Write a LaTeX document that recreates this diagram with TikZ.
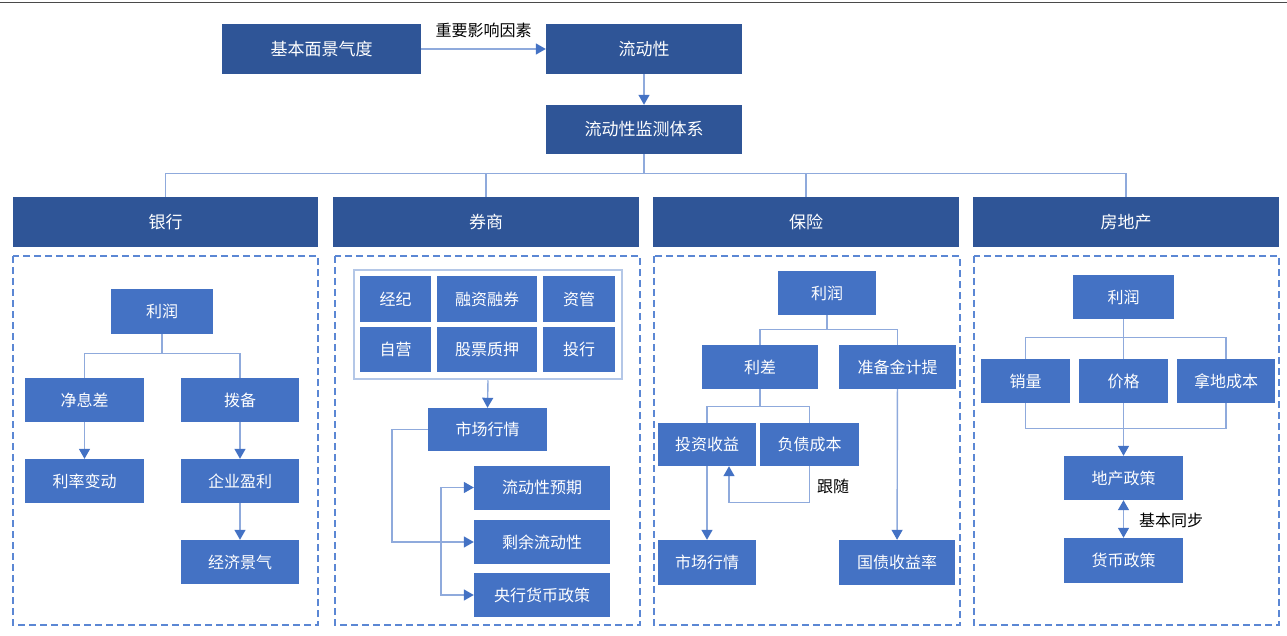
\documentclass[tikz,border=0pt]{standalone}
\usepackage{fontspec}
\usepackage{xcolor}
\usepackage{tikz}
\usetikzlibrary{
		arrows.meta,
		calc
	}
\newfontfamily\cjkfont{Noto Sans CJK SC}
\definecolor{chart-dark}{HTML}{2F5597}
\definecolor{chart-mid}{HTML}{4472C4}
\definecolor{chart-line}{HTML}{8FAADC}
\definecolor{chart-frame}{HTML}{B4C7E7}
\definecolor{chart-dash}{HTML}{5B87D4}
\definecolor{chart-rule}{HTML}{4A4A4A}
\newcommand{\boxfont}{\cjkfont\fontsize{16}{18}\selectfont}
\newcommand{\headfont}{\cjkfont\fontsize{17}{19}\selectfont}
\tikzset{%
		topbox/.style = {
			fill = chart-dark,
			text = white,
			font = \headfont,
			inner sep = 0pt,
			minimum height = 50pt
		},
		cellbox/.style = {
			fill = chart-mid,
			text = white,
			font = \boxfont,
			inner sep = 0pt,
			minimum height = 44pt
		},
		cellframe/.style = {
			draw = chart-frame,
			line width = 2.5pt,
			fill = white,
			inner sep = 0pt
		},
		panel/.style = {
			draw = chart-dash,
			line width = 1.8pt,
			dash pattern = on 7pt off 4pt
		},
		wire/.style = {
			draw = chart-line,
			line width = 1.4pt
		},
		arrowwire/.style = {
			wire,
			-{Triangle[width=11pt, length=10pt, color=chart-mid]}
		},
		twowire/.style = {
			wire,
			{Triangle[width=11pt, length=10pt, color=chart-mid]}-{Triangle[width=11pt, length=10pt, color=chart-mid]}
		},
		note/.style = {
			text = black,
			font = \boxfont,
			inner sep = 0pt
		}
	}

\begin{document}
\begin{tikzpicture}[x=1pt, y=-1pt]
		\useasboundingbox (0, 0) rectangle (1287, 636);
		\draw [chart-rule, line width = 1.5pt] (0, 2.5) -- (1287, 2.5);

		% top chain
		\node [topbox, minimum width = 199pt] (fund) at (321.5, 49) {基本面景气度};
		\node [topbox, minimum width = 196pt] (liq) at (644, 49) {流动性};
		\node [topbox, minimum width = 196pt, minimum height = 49pt] (monitor) at (644, 129.5) {流动性监测体系};
		\draw [arrowwire] (fund) -- node [note, above = 11pt] (factor) {重要影响因素} (liq);
		\draw [arrowwire] (liq) -- (monitor);

		% sector headers
		\node [topbox, minimum width = 305pt] (bank) at (165.5, 222) {银行};
		\node [topbox, minimum width = 306pt] (broker) at (486, 222) {券商};
		\node [topbox, minimum width = 306pt] (insur) at (806, 222) {保险};
		\node [topbox, minimum width = 306pt] (estate) at (1126, 222) {房地产};
		\coordinate (monitor-bus) at ($(monitor.south) + (0, 19.5)$);
		\draw [wire] (monitor.south) -- (monitor-bus);
		\foreach \sector in {bank, broker, insur, estate}
			\draw [wire] (\sector.north) |- (monitor-bus);

		\draw [panel] (13, 256) rectangle (318, 625);
		\draw [panel] (335, 256) rectangle (640, 625);
		\draw [panel] (654, 256) rectangle (960, 625);
		\draw [panel] (974, 256) rectangle (1279, 625);

		% bank
		\node [cellbox, minimum width = 102pt, minimum height = 45pt] (bk-profit) at (162, 311.5) {利润};
		\node [cellbox, minimum width = 119pt] (bk-nim) at (84.5, 400) {净息差};
		\node [cellbox, minimum width = 118pt] (bk-prov) at (240, 400) {拨备};
		\node [cellbox, minimum width = 119pt] (bk-rate) at (84.5, 481) {利率变动};
		\node [cellbox, minimum width = 118pt] (bk-earn) at (240, 481) {企业盈利};
		\node [cellbox, minimum width = 118pt] (bk-econ) at (240, 562) {经济景气};
		\coordinate (bk-bus) at ($(bk-profit.south) + (0, 19)$);
		\draw [wire] (bk-profit.south) -- (bk-bus);
		\draw [wire] (bk-bus) -| (bk-nim.north);
		\draw [wire] (bk-bus) -| (bk-prov.north);
		\draw [arrowwire] (bk-nim) -- (bk-rate);
		\draw [arrowwire] (bk-prov) -- (bk-earn);
		\draw [arrowwire] (bk-earn) -- (bk-econ);

		% broker
		\node [cellframe, minimum width = 268pt, minimum height = 109pt] (br-frame) at (488, 324.5) {};
		\node [cellbox, minimum width = 71pt, minimum height = 45pt] (br-agency) at (395.5, 299) {经纪};
		\node [cellbox, minimum width = 100pt, minimum height = 45pt] (br-margin) at (487, 299) {融资融券};
		\node [cellbox, minimum width = 72pt, minimum height = 45pt] (br-asset) at (579, 299) {资管};
		\node [cellbox, minimum width = 71pt, minimum height = 45pt] (br-prop) at (395.5, 349.5) {自营};
		\node [cellbox, minimum width = 100pt, minimum height = 45pt] (br-pledge) at (487, 349.5) {股票质押};
		\node [cellbox, minimum width = 72pt, minimum height = 45pt] (br-ib) at (579, 349.5) {投行};
		\node [cellbox, minimum width = 119pt, minimum height = 43pt] (br-market) at (487.5, 429.5) {市场行情};
		\node [cellbox, minimum width = 136pt] (br-expect) at (542, 487.5) {流动性预期};
		\node [cellbox, minimum width = 136pt] (br-surplus) at (542, 542) {剩余流动性};
		\node [cellbox, minimum width = 136pt] (br-policy) at (542, 595) {央行货币政策};
		\draw [arrowwire] (br-frame.south) -- (br-market.north);
		\draw [arrowwire] (br-market.west) -- ++(-36, 0) |- (br-surplus.west);
		\coordinate (br-split) at (441, 542);
		\draw [arrowwire] (br-split) |- (br-expect.west);
		\draw [arrowwire] (br-split) |- (br-policy.west);

		% insurance
		\node [cellbox, minimum width = 98pt] (in-profit) at (827, 293) {利润};
		\node [cellbox, minimum width = 116pt] (in-spread) at (760, 367) {利差};
		\node [cellbox, minimum width = 117pt] (in-reserve) at (897.5, 367) {准备金计提};
		\node [cellbox, minimum width = 98pt, minimum height = 43pt] (in-invest) at (707, 444.5) {投资收益};
		\node [cellbox, minimum width = 99pt, minimum height = 43pt] (in-cost) at (809.5, 444.5) {负债成本};
		\node [cellbox, minimum width = 98pt, minimum height = 45pt] (in-market) at (707, 562.5) {市场行情};
		\node [cellbox, minimum width = 116pt, minimum height = 45pt] (in-bond) at (897, 562.5) {国债收益率};
		\coordinate (in-bus) at ($(in-profit.south) + (0, 14)$);
		\draw [wire] (in-profit.south) -- (in-bus);
		\draw [wire] (in-bus) -| (in-spread.north);
		\draw [wire] (in-bus) -| (in-reserve.north);
		\coordinate (in-subbus) at ($(in-spread.south) + (0, 17)$);
		\draw [wire] (in-spread.south) -- (in-subbus);
		\draw [wire] (in-subbus) -| (in-invest.north);
		\draw [wire] (in-subbus) -| (in-cost.north);
		\draw [arrowwire] (in-cost.south) -- ++(0, 36) -| ([xshift = 22pt]in-invest.south);
		\node [note] (in-follow) at (833, 486) {跟随};
		\draw [arrowwire] (in-invest) -- (in-market);
		\draw [arrowwire] (in-reserve) -- (in-bond);

		% real estate
		\node [cellbox, minimum width = 101pt] (es-profit) at (1123.5, 297) {利润};
		\node [cellbox, minimum width = 89pt] (es-sales) at (1025.5, 381) {销量};
		\node [cellbox, minimum width = 89pt] (es-price) at (1123.5, 381) {价格};
		\node [cellbox, minimum width = 98pt] (es-land) at (1226, 381) {拿地成本};
		\node [cellbox, minimum width = 119pt] (es-policy) at (1123.5, 478) {地产政策};
		\node [cellbox, minimum width = 119pt, minimum height = 45pt] (es-money) at (1123.5, 560.5) {货币政策};
		\coordinate (es-bus) at ($(es-profit.south) + (0, 18)$);
		\draw [wire] (es-profit.south) -- (es-price.north);
		\draw [wire] (es-bus) -| (es-sales.north);
		\draw [wire] (es-bus) -| (es-land.north);
		\draw [wire] (es-sales.south) -- ++(0, 25) -| (es-land.south);
		\draw [arrowwire] (es-price.south) -- (es-policy.north);
		\draw [twowire] (es-policy) -- (es-money);
		\node [note] (es-sync) at (1171, 520) {基本同步};
	\end{tikzpicture}
\end{document}
